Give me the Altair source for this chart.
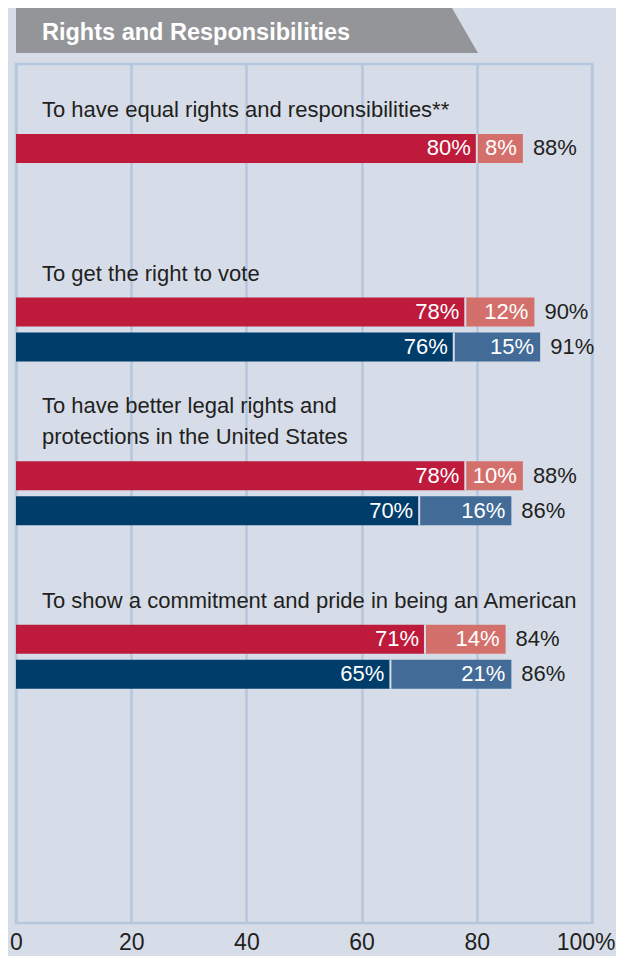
import altair as alt
import pandas as pd

TITLE = "Rights and Responsibilities"
QUESTIONS = [
    "To have equal rights and responsibilities**",
    "To get the right to vote",
    "To have better legal rights and protections in the United States",
    "To show a commitment and pride in being an American",
]
QUESTION_LINES = [
    ["To have equal rights and responsibilities**"],
    ["To get the right to vote"],
    ["To have better legal rights and", "protections in the United States"],
    ["To show a commitment and pride in being an American"],
]
SERIES = ["Red series", "Blue series"]
RED_MAIN = [80, 78, 78, 71]
RED_EXTRA = [8, 12, 10, 14]
RED_TOTAL = [88, 90, 88, 84]
BLUE_MAIN = [None, 76, 70, 65]
BLUE_EXTRA = [None, 15, 16, 21]
BLUE_TOTAL = [None, 91, 86, 86]
X_TICKS = [0, 20, 40, 60, 80, 100]

BG = "#d6dde9"
GRID = "#b6c6dc"
HEADER = "#939598"
TEXT = "#231f20"
KEYS = ["Red series main", "Red series extra", "Blue series main", "Blue series extra"]
COLORS = ["#be1a3b", "#d4706b", "#003d6b", "#426b98"]
LABEL_FONT = "Liberation Sans"
NUM_FONT = "Liberation Sans"

seg_rows, sep_rows, tot_rows = [], [], []
for i, q in enumerate(QUESTIONS):
    sets = [(RED_MAIN[i], RED_EXTRA[i], RED_TOTAL[i]), (BLUE_MAIN[i], BLUE_EXTRA[i], BLUE_TOTAL[i])]
    for s, (m, e, t) in zip(SERIES, sets):
        if m is None:
            continue
        seg_rows.append(dict(q=q, series=s, key=s + " main", start=0, end=m, label=f"{m}%"))
        seg_rows.append(dict(q=q, series=s, key=s + " extra", start=m, end=m + e, label=f"{e}%"))
        sep_rows.append(dict(q=q, series=s, x=m))
        tot_rows.append(dict(q=q, series=s, x=m + e, label=f"{t}%"))

lab_rows = []
for q, lines in zip(QUESTIONS, QUESTION_LINES):
    n = len(lines)
    for j, line in enumerate(lines):
        lab_rows.append(dict(q=q, text=line, from_end=n - 1 - j))

seg_df = pd.DataFrame(seg_rows)
sep_df = pd.DataFrame(sep_rows)
tot_df = pd.DataFrame(tot_rows)
lab_df = pd.DataFrame(lab_rows)
hdr_df = pd.DataFrame({"t": [TITLE]})

x_scale = alt.Scale(domain=[0, 100], nice=False, zero=True)
y_scale = alt.Scale(domain=QUESTIONS, paddingInner=0, paddingOuter=0.6253, align=0)
# two empty slots above the bars leave room for each question's label
yoff_scale = alt.Scale(domain=["_gap1", "_gap2"] + SERIES, paddingInner=6 / 35,
                       paddingOuter=0.4229, align=0)

x_axis = alt.Axis(
    values=X_TICKS, grid=True, gridColor=GRID, gridWidth=2.5, domain=False, ticks=False,
    labelFont=NUM_FONT, labelFontSize=23, labelColor=TEXT, labelPadding=8,
    labelFlush=False, labelOverlap=False,
    labelAlign={"condition": {"test": "datum.value == 100", "value": "right"}, "value": "center"},
    labelOffset={"condition": {"test": "datum.value == 100", "value": 23}, "value": 0},
    labelExpr="datum.value == 100 ? '100%' : datum.label", title=None,
)

TAB_PATH = "M-1,-0.0974 L0.8874,-0.0974 L1,0.0974 L-1,0.0974 Z"
tab = alt.Chart(hdr_df).mark_point(
    shape=TAB_PATH, size=213444, filled=True, fill=HEADER, opacity=1, strokeWidth=0
).encode(x=alt.value(231), y=alt.value(-33.5))

htext = alt.Chart(hdr_df).mark_text(
    align="left", baseline="alphabetic", font=NUM_FONT, fontWeight="bold",
    fontSize=23.5, color="white"
).encode(x=alt.value(26), y=alt.value(-24), text="t:N")

bars = alt.Chart(seg_df).mark_bar().encode(
    x=alt.X("start:Q", scale=x_scale, axis=x_axis),
    x2="end:Q",
    y=alt.Y("q:N", scale=y_scale, axis=None),
    yOffset=alt.YOffset("series:N", scale=yoff_scale),
    color=alt.Color("key:N", scale=alt.Scale(domain=KEYS, range=COLORS), legend=None),
)

seps = alt.Chart(sep_df).mark_tick(color=BG, thickness=2, size=29, opacity=1).encode(
    x="x:Q", y="q:N", yOffset="series:N"
)

vals = alt.Chart(seg_df).mark_text(
    align="right", baseline="middle", dx=-6, color="white", font=NUM_FONT, fontSize=22
).encode(x="end:Q", y="q:N", yOffset="series:N", text="label:N")

tots = alt.Chart(tot_df).mark_text(
    align="left", baseline="middle", dx=10, color=TEXT, font=NUM_FONT, fontSize=22
).encode(x="x:Q", y="q:N", yOffset="series:N", text="label:N")

lab_last = alt.Chart(lab_df).transform_filter("datum.from_end == 0").mark_text(
    align="left", baseline="alphabetic", dy=-28.7, font=LABEL_FONT, fontSize=22, color=TEXT
).encode(x=alt.value(26), y="q:N", text="text:N")

lab_prev = alt.Chart(lab_df).transform_filter("datum.from_end == 1").mark_text(
    align="left", baseline="alphabetic", dy=-59.7, font=LABEL_FONT, fontSize=22, color=TEXT
).encode(x=alt.value(26), y="q:N", text="text:N")

chart = alt.layer(tab, htext, bars, seps, vals, tots, lab_last, lab_prev).properties(
    width=576, height=859, background=BG,
    padding={"left": 8, "top": 56, "right": 24, "bottom": 33},
    autosize=alt.AutoSizeParams(type="none"),
).configure_view(stroke=GRID, strokeWidth=2.5)

chart.save("out.html", embed_options={"renderer": "svg", "actions": False})
